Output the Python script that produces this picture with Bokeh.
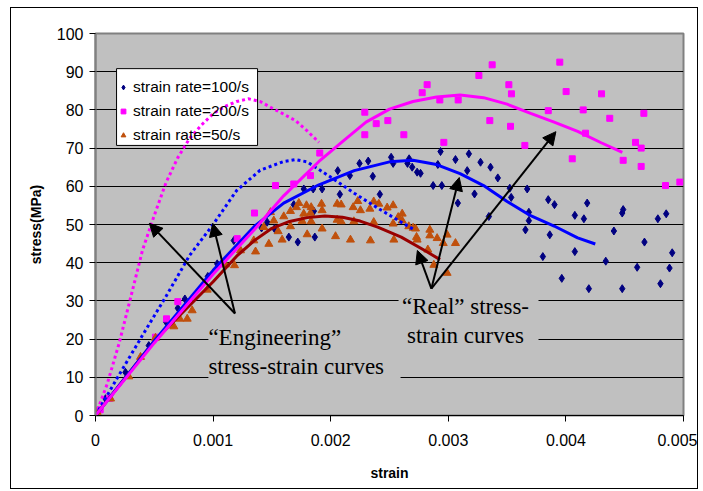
from bokeh.plotting import figure
from bokeh.models import (Range1d, FixedTicker, CustomJSTickFormatter, Label, Arrow,
                          NormalHead, Legend, LegendItem)
from bokeh.embed import file_html
from bokeh.resources import INLINE

# ---------------- data ----------------
x_ticks = [0, 0.001, 0.002, 0.003, 0.004, 0.005]
y_ticks = [0, 10, 20, 30, 40, 50, 60, 70, 80, 90, 100]

# strain rate = 100/s measured points
s100_x = [0.000085, 0.000255, 0.000453, 0.0006, 0.0007, 0.00076, 0.000955, 0.001035, 0.001176,
          0.001412, 0.00146, 0.001522, 0.001644, 0.00172, 0.001865, 0.001686, 0.001857, 0.001771,
          0.001851, 0.001927, 0.00206, 0.002078, 0.002163, 0.002245, 0.002319, 0.002358, 0.002418,
          0.002514, 0.002531, 0.002653, 0.002667, 0.002693, 0.002735, 0.002764, 0.002871, 0.002911,
          0.002934, 0.002945, 0.003061, 0.003081, 0.003161, 0.003175, 0.003223, 0.003274, 0.003345,
          0.003359, 0.003421, 0.003523, 0.003535, 0.003656, 0.003671, 0.003685, 0.003685, 0.003804,
          0.00385, 0.003863, 0.003903, 0.003965, 0.004076, 0.004076, 0.004153, 0.004181, 0.004195,
          0.004339, 0.004408, 0.004479, 0.004487, 0.004479, 0.004606, 0.004668, 0.004782, 0.004804,
          0.004853, 0.004881, 0.004904]
s100_y = [4.4, 11.3, 18.3, 24.5, 28.1, 30.5, 36.4, 39.7, 45.8,
          49.1, 50.6, 48.9, 46.7, 45.4, 46.7, 55.2, 53.5, 59.3,
          59.3, 59.3, 64.1, 57.9, 62.8, 66.0, 66.6, 62.6, 57.9,
          67.6, 66.0, 66.0, 67.2, 65.0, 63.7, 63.4, 60.2, 65.7,
          69.1, 60.2, 67.0, 55.6, 64.1, 68.5, 58.0, 66.3, 52.1,
          65.0, 62.2, 59.5, 57.1, 48.6, 59.3, 53.2, 51.0, 41.6,
          56.5, 47.3, 55.2, 35.9, 52.4, 42.9, 51.5, 55.6, 33.2,
          40.4, 48.3, 53.0, 53.9, 33.2, 38.8, 45.4, 51.5, 34.5,
          52.8, 38.6, 42.6]

# strain rate = 200/s measured points
s200_x = [0.00004, 0.00012, 0.00051, 0.000604, 0.0007, 0.001205, 0.001352, 0.001531, 0.001686,
          0.001828, 0.001907, 0.00229, 0.00229, 0.002387, 0.002486, 0.002622, 0.002778, 0.00282,
          0.002928, 0.002962, 0.003084, 0.00326, 0.003353, 0.003373, 0.003515, 0.003529, 0.003537,
          0.003651, 0.00385, 0.003948, 0.004002, 0.004054, 0.004147, 0.004167, 0.004303, 0.004373,
          0.004487, 0.004592, 0.00464, 0.00464, 0.004663, 0.004847, 0.004969]
s200_y = [1.5, 4.5, 20.5, 25.3, 29.8, 46.3, 53.0, 60.2, 60.6,
          62.8, 68.7, 79.4, 73.5, 76.4, 77.2, 73.5, 84.5, 86.6,
          82.6, 71.5, 82.6, 89.0, 77.2, 91.8, 86.6, 75.7, 84.2,
          70.7, 79.8, 92.5, 84.8, 67.2, 80.0, 73.9, 84.2, 77.8,
          66.8, 71.5, 70.0, 65.2, 79.1, 60.2, 61.1]

# strain rate = 50/s measured points
s50_x = [0.000014, 0.000128, 0.000283, 0.000383, 0.00051, 0.000666, 0.000717, 0.00078, 0.000822,
         0.00095, 0.001105, 0.001182, 0.001233, 0.001346, 0.001361, 0.001431, 0.001474, 0.001488,
         0.001516, 0.001553, 0.001587, 0.001601, 0.001658, 0.001658, 0.001709, 0.001729, 0.001757,
         0.001771, 0.001794, 0.0018, 0.001828, 0.001834, 0.001834, 0.001922, 0.001927, 0.001927,
         0.002041, 0.002055, 0.002055, 0.002089, 0.002089, 0.002168, 0.002191, 0.002197, 0.00223,
         0.002253, 0.002333, 0.002338, 0.002366, 0.002366, 0.002409, 0.00248, 0.002531, 0.002531,
         0.002537, 0.002574, 0.002608, 0.002608, 0.002664, 0.002701, 0.002721, 0.00273, 0.002735,
         0.002826, 0.002843, 0.002843, 0.002877, 0.002905, 0.002957, 0.00299, 0.00299, 0.003061]
s50_y = [0.9, 4.4, 10.2, 15.3, 20.3, 23.3, 25.3, 25.3, 27.5,
         32.9, 39.5, 39.3, 43.2, 45.8, 42.9, 49.3, 44.9, 53.2,
         51.0, 48.2, 46.0, 52.1, 53.5, 49.5, 54.5, 55.6, 50.9,
         52.8, 55.0, 47.4, 53.0, 54.5, 50.8, 55.4, 53.7, 48.9,
         46.9, 55.4, 51.2, 55.2, 50.8, 46.0, 54.5, 50.8, 56.1,
         53.7, 54.1, 45.8, 56.0, 50.6, 55.4, 54.4, 55.0, 50.2,
         46.0, 51.9, 52.8, 51.0, 49.5, 49.1, 48.9, 46.7, 46.0,
         43.4, 48.6, 47.1, 39.4, 46.4, 45.1, 47.3, 37.3, 45.1]

# "Engineering" curves (dotted)
eng200_x = [0, 0.0001, 0.0002, 0.0003, 0.0004, 0.0005, 0.0006, 0.0007, 0.0008, 0.0009, 0.001,
            0.0011, 0.0012, 0.0013, 0.0014, 0.0015, 0.0016, 0.0017, 0.0018, 0.0019]
eng200_y = [0, 8.3, 18.8, 31.0, 43.3, 52.4, 61.0, 67.5, 72.5, 76.0, 79.0,
            80.9, 82.2, 82.9, 82.2, 80.5, 78.9, 77.2, 74.5, 71.5]
eng100_x = [0, 0.0002, 0.0004, 0.0006, 0.0008, 0.001, 0.0012, 0.0014, 0.0016, 0.0017, 0.0018,
            0.002, 0.0022, 0.0024, 0.0026, 0.0027]
eng100_y = [0, 10.6, 21.0, 31.2, 41.9, 50.0, 58.9, 64.2, 66.5, 67.0, 66.4,
            62.4, 58.2, 54.3, 50.6, 48.8]

# "Real" curves (solid)
real200_x = [0, 0.0005, 0.001, 0.00135, 0.0016, 0.0019, 0.0021, 0.0023, 0.0025, 0.0027, 0.0029,
             0.0031, 0.0033, 0.0035, 0.0037, 0.0039, 0.0041, 0.0043, 0.00448]
real200_y = [0, 19.0, 37.0, 48.6, 57.5, 66.5, 71.7, 76.8, 80.2, 82.2, 83.4,
             83.9, 83.2, 81.5, 79.1, 76.8, 74.4, 71.4, 68.9]
real100_x = [0, 0.0005, 0.001, 0.00135, 0.0016, 0.0019, 0.0022, 0.0025, 0.0027, 0.0029, 0.0031,
             0.0033, 0.0035, 0.0037, 0.0039, 0.0041, 0.00425]
real100_y = [0, 19.5, 38.0, 49.5, 55.6, 60.4, 64.1, 66.4, 66.8, 65.7, 63.3,
             60.2, 56.0, 52.3, 49.6, 46.5, 44.9]
real50_x = [0, 0.0005, 0.001, 0.0012, 0.00135, 0.0015, 0.00165, 0.0018, 0.00195, 0.0021, 0.00225,
            0.0024, 0.0026, 0.0028, 0.00293]
real50_y = [0, 19.5, 35.0, 41.7, 45.8, 49.0, 50.8, 51.8, 52.2, 51.9, 50.9,
            49.3, 46.7, 43.2, 40.8]

legend_labels = ["strain rate=100/s", "strain rate=200/s", "strain rate=50/s"]

# ---------------- figure ----------------
NAVY = "#000080"
MAG = "#FF00FF"
BROWN = "#C0500C"
BLUE = "#0000FF"
DRED = "#990000"

# figure placed at (11, 8) on the page, its CSS outline is the chart's outer border
p = figure(width=686, height=480, output_backend="svg", toolbar_location=None,
           x_range=Range1d(0, 0.005), y_range=Range1d(0, 100),
           min_border_left=84, min_border_right=14, min_border_top=25, min_border_bottom=73)
p.margin = (8, 0, 0, 11)
p.styles = {"outline": "1px solid black"}
p.background_fill_color = "#C0C0C0"
p.border_fill_color = "white"
p.outline_line_color = "#808080"
p.outline_line_width = 2

p.xgrid.grid_line_color = None
p.ygrid.grid_line_color = "black"
p.ygrid.grid_line_width = 1
p.ygrid.ticker = FixedTicker(ticks=y_ticks)

p.xaxis.ticker = FixedTicker(ticks=x_ticks)
p.xaxis.formatter = CustomJSTickFormatter(code="return tick == 0 ? '0' : tick.toFixed(3);")
p.yaxis.ticker = FixedTicker(ticks=y_ticks)
for ax in (p.xaxis[0], p.yaxis[0]):
    ax.major_label_text_font = "Liberation Sans"
    ax.major_label_text_font_size = "16px"
    ax.major_label_text_color = "black"
    ax.axis_label_text_font = "Liberation Sans"
    ax.axis_label_text_font_size = "14px"
    ax.axis_label_text_font_style = "bold"
    ax.axis_label_text_color = "black"
    ax.major_tick_in = 0
    ax.major_tick_out = 6
    ax.minor_tick_in = 0
    ax.minor_tick_out = 0
    ax.major_tick_line_color = "black"
p.xaxis.axis_label = "strain"
p.yaxis.axis_label = "stress(MPa)"
p.xaxis.axis_line_color = "black"
p.yaxis.axis_line_color = "#808080"
p.yaxis.axis_line_width = 2
p.xaxis.major_label_standoff = 12
p.yaxis.major_label_standoff = 6
p.xaxis.axis_label_standoff = 16
p.yaxis.axis_label_standoff = 10

# gray backings for the annotation text (hide gridlines behind text)
p.quad(left=[0.00096, 0.002577], right=[0.002594, 0.003767], bottom=[8.6, 17.8], top=[23.6, 32.2],
       fill_color="#C0C0C0", line_color=None)
# white legend box (drawn under the curves, as in the original)
p.quad(left=[0.000179], right=[0.001378], bottom=[70.7], top=[90.8],
       fill_color="white", line_color="black", line_width=1)

# measured points
r100 = p.scatter(s100_x, s100_y, marker="diamond", size=8, fill_color=NAVY, line_color=NAVY)
r200 = p.scatter(s200_x, s200_y, marker="square", size=6, fill_color=MAG, line_color=MAG)
r50 = p.scatter(s50_x, s50_y, marker="triangle", size=8, fill_color=BROWN, line_color=BROWN)

# curves
p.line(eng200_x, eng200_y, line_color=MAG, line_width=3, line_dash="3 3")
p.line(eng100_x, eng100_y, line_color=BLUE, line_width=3, line_dash="3 3")
p.line(real50_x, real50_y, line_color=DRED, line_width=3)
p.line(real100_x, real100_y, line_color=BLUE, line_width=3)
p.line(real200_x, real200_y, line_color=MAG, line_width=3)

# arrows
def arrow(x0, y0, x1, y1):
    p.add_layout(Arrow(x_start=x0, y_start=y0, x_end=x1, y_end=y1, line_color="black", line_width=2,
                       end=NormalHead(size=13, fill_color="black", line_color="black")))

arrow(0.001186, 26.7, 0.000458, 50.3)
arrow(0.001186, 26.7, 0.000997, 50.3)
arrow(0.002856, 33.2, 0.002737, 43.2)
arrow(0.002856, 33.2, 0.003093, 62.3)
arrow(0.002856, 33.2, 0.003915, 74.3)

p.add_layout(Label(x=0.00096, y=23.6, text="\u201cEngineering\u201d\nstress-strain curves",
                   text_font="Liberation Serif", text_font_size="23px", text_color="black",
                   text_align="left", text_baseline="top", text_line_height=1.15))
p.add_layout(Label(x=0.003146, y=31.8, text="\u201cReal\u201d stress-\nstrain curves",
                   text_font="Liberation Serif", text_font_size="23px", text_color="black",
                   text_align="center", text_baseline="top", text_line_height=1.15))

legend = Legend(items=[LegendItem(label=legend_labels[0], renderers=[r100]),
                       LegendItem(label=legend_labels[1], renderers=[r200]),
                       LegendItem(label=legend_labels[2], renderers=[r50])],
                location=(22, 271))
legend.label_text_font = "Liberation Sans"
legend.label_text_font_size = "15.5px"
legend.label_text_color = "black"
legend.label_height = 18
legend.glyph_height = 18
legend.glyph_width = 12
legend.label_standoff = 4
legend.spacing = 6
legend.padding = 5
legend.margin = 0
legend.border_line_color = None
legend.background_fill_alpha = 0
p.add_layout(legend, "center")

open("out.html", "w").write(file_html(p, INLINE))
